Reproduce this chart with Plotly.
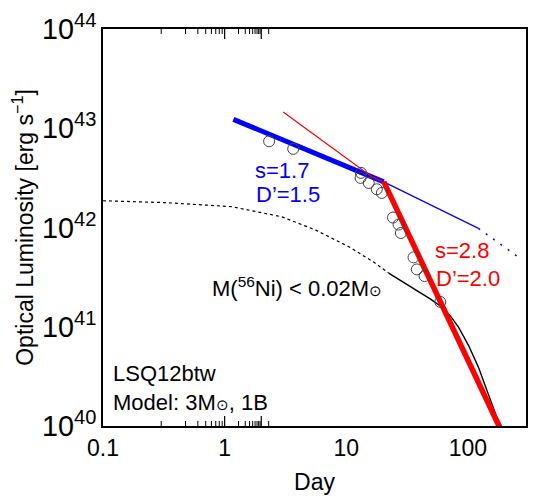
import math

import plotly.graph_objects as go

# observed optical luminosity (open circles)
obs_day = [2.32, 3.66, 13.2, 13.1, 15.3, 17.8, 19.6, 24.2, 26.9, 28.1, 35.7, 38.0, 44.0, 59.2]
obs_lum = [7.4e42, 6.2e42, 3.55e42, 3.16e42, 2.81e42, 2.43e42, 2.23e42,
           1.26e42, 1.07e42, 8.8e41, 5.0e41, 3.78e41, 3.24e41, 1.78e41]

# fitted power laws
blue_fit_day = [1.18, 20.3]
blue_fit_lum = [1.23e43, 2.88e42]
blue_ext_day = [20.3, 122]
blue_ext_lum = [2.88e42, 9.8e41]
blue_dot_day = [122, 268]
blue_dot_lum = [9.8e41, 4.9e41]

red_fit_day = [20.3, 185]
red_fit_lum = [2.9e42, 9.3e39]
red_thin_day = [3.03, 16.2, 19.5]
red_thin_lum = [1.46e43, 3.24e42, 2.95e42]

# 56Ni model curve (dashed part, then solid)
ni_dash_day = [0.1, 0.331, 1.15, 2.96, 5.62, 10.5, 16.8, 22.3]
ni_dash_lum = [1.86e42, 1.78e42, 1.62e42, 1.28e42, 9.4e41, 6.4e41, 4.48e41, 3.47e41]
ni_solid_day = [22.3, 29.6, 39.3, 49.3, 59.6, 71.9, 83.6, 101, 122, 147, 171, 188, 199]
ni_solid_lum = [3.47e41, 2.81e41, 2.28e41, 1.90e41, 1.61e41, 1.28e41, 9.9e40,
                6.5e40, 3.9e40, 2.14e40, 1.26e40, 1.0e40, 0.92e40]

# tick positions (ticks on the frame edges are left out)
x_major = [1, 10, 100]
x_minor = [m * d for d in (0.1, 1, 10, 100) for m in range(2, 10) if m * d < 300]
y_major = [1e41, 1e42, 1e43]
y_minor = [m * d for d in (1e40, 1e41, 1e42, 1e43) for m in (2, 5)]

FONT = 'Liberation Sans, Arial, sans-serif'
BLUE = '#0000ff'
RED = '#ff0000'

fig = go.Figure()

fig.add_trace(go.Scatter(x=ni_dash_day, y=ni_dash_lum, mode='lines',
                         line={'color': 'black', 'width': 1.2, 'dash': '3px,3px'}))
fig.add_trace(go.Scatter(x=ni_solid_day, y=ni_solid_lum, mode='lines',
                         line={'color': 'black', 'width': 1.4}))
fig.add_trace(go.Scatter(x=blue_ext_day, y=blue_ext_lum, mode='lines',
                         line={'color': BLUE, 'width': 1.2}))
fig.add_trace(go.Scatter(x=blue_dot_day, y=blue_dot_lum, mode='lines',
                         line={'color': BLUE, 'width': 1.5, 'dash': '2px,7px'}))
fig.add_trace(go.Scatter(x=blue_fit_day, y=blue_fit_lum, mode='lines',
                         line={'color': BLUE, 'width': 5}))
fig.add_trace(go.Scatter(x=red_thin_day, y=red_thin_lum, mode='lines',
                         line={'color': RED, 'width': 1.2}))
fig.add_trace(go.Scatter(x=red_fit_day, y=red_fit_lum, mode='lines',
                         line={'color': RED, 'width': 5.5}))
fig.add_trace(go.Scatter(x=obs_day, y=obs_lum, mode='markers',
                         marker={'symbol': 'circle-open', 'size': 11, 'color': '#444',
                                 'line': {'width': 1}}))

axis_common = {
    'type': 'log',
    'automargin': False,
    'showgrid': False,
    'zeroline': False,
    'showline': True,
    'linecolor': 'black',
    'linewidth': 2,
    'mirror': True,
    'ticks': '',
    'tickfont': {'family': FONT, 'size': 23, 'color': 'black'},
}

fig.update_xaxes(**axis_common, range=[-1, 2.4771], dtick=1, exponentformat='none',
                 title={'text': 'Day', 'font': {'family': FONT, 'size': 23, 'color': 'black'},
                        'standoff': 14})
fig.update_yaxes(**axis_common, range=[40, 44], dtick=1, exponentformat='power',
                 title={'text': 'Optical Luminosity [erg s<sup>−1</sup>]',
                        'font': {'family': FONT, 'size': 23, 'color': 'black'},
                        'standoff': 8})


def add_x_ticks(vals, length, width):
    for v in vals:
        for anchor, y0, y1 in ((0, 0, length), (1, -length, 0)):
            fig.add_shape(type='line', xref='x', yref='paper', ysizemode='pixel',
                          yanchor=anchor, x0=math.log10(v), x1=math.log10(v), y0=y0, y1=y1,
                          line={'color': 'black', 'width': width}, layer='above')


def add_y_ticks(vals, length, width):
    for v in vals:
        for anchor, x0, x1 in ((0, 0, length), (1, -length, 0)):
            fig.add_shape(type='line', xref='paper', yref='y', xsizemode='pixel',
                          xanchor=anchor, x0=x0, x1=x1, y0=math.log10(v), y1=math.log10(v),
                          line={'color': 'black', 'width': width}, layer='above')


add_x_ticks(x_major, 10, 1.2)
add_x_ticks(x_minor, 5, 1)
add_y_ticks(y_major, 10, 1.2)
add_y_ticks(y_minor, 5, 1)

sun = '<span style="font-size:15px">⊙</span>'
text_items = [
    ('s=1.7', 0.25, 42.577, BLUE),
    ('D’=1.5', 0.256, 42.335, BLUE),
    ('s=2.8', 1.731, 41.771, RED),
    ('D’=2.0', 1.734, 41.49, RED),
    ('M(<sup>56</sup>Ni) &lt; 0.02M' + sun, -0.102, 41.399, 'black'),
    ('LSQ12btw', -0.914, 40.533, 'black'),
    ('Model: 3M' + sun + ', 1B', -0.914, 40.24, 'black'),
]
for txt, ax_x, ax_y, col in text_items:
    fig.add_annotation(x=ax_x, y=ax_y, xref='x', yref='y', text=txt, showarrow=False,
                       xanchor='left', yanchor='middle', xshift=-2,
                       font={'family': FONT, 'size': 22, 'color': col})

# page body adds an 8px offset, so the figure is 8px smaller than the window
fig.update_layout(
    template='none',
    width=532, height=496,
    margin={'l': 95, 'r': 14, 't': 21, 'b': 78, 'pad': 0},
    plot_bgcolor='white', paper_bgcolor='white',
    showlegend=False,
)

fig.write_html("out.html")
